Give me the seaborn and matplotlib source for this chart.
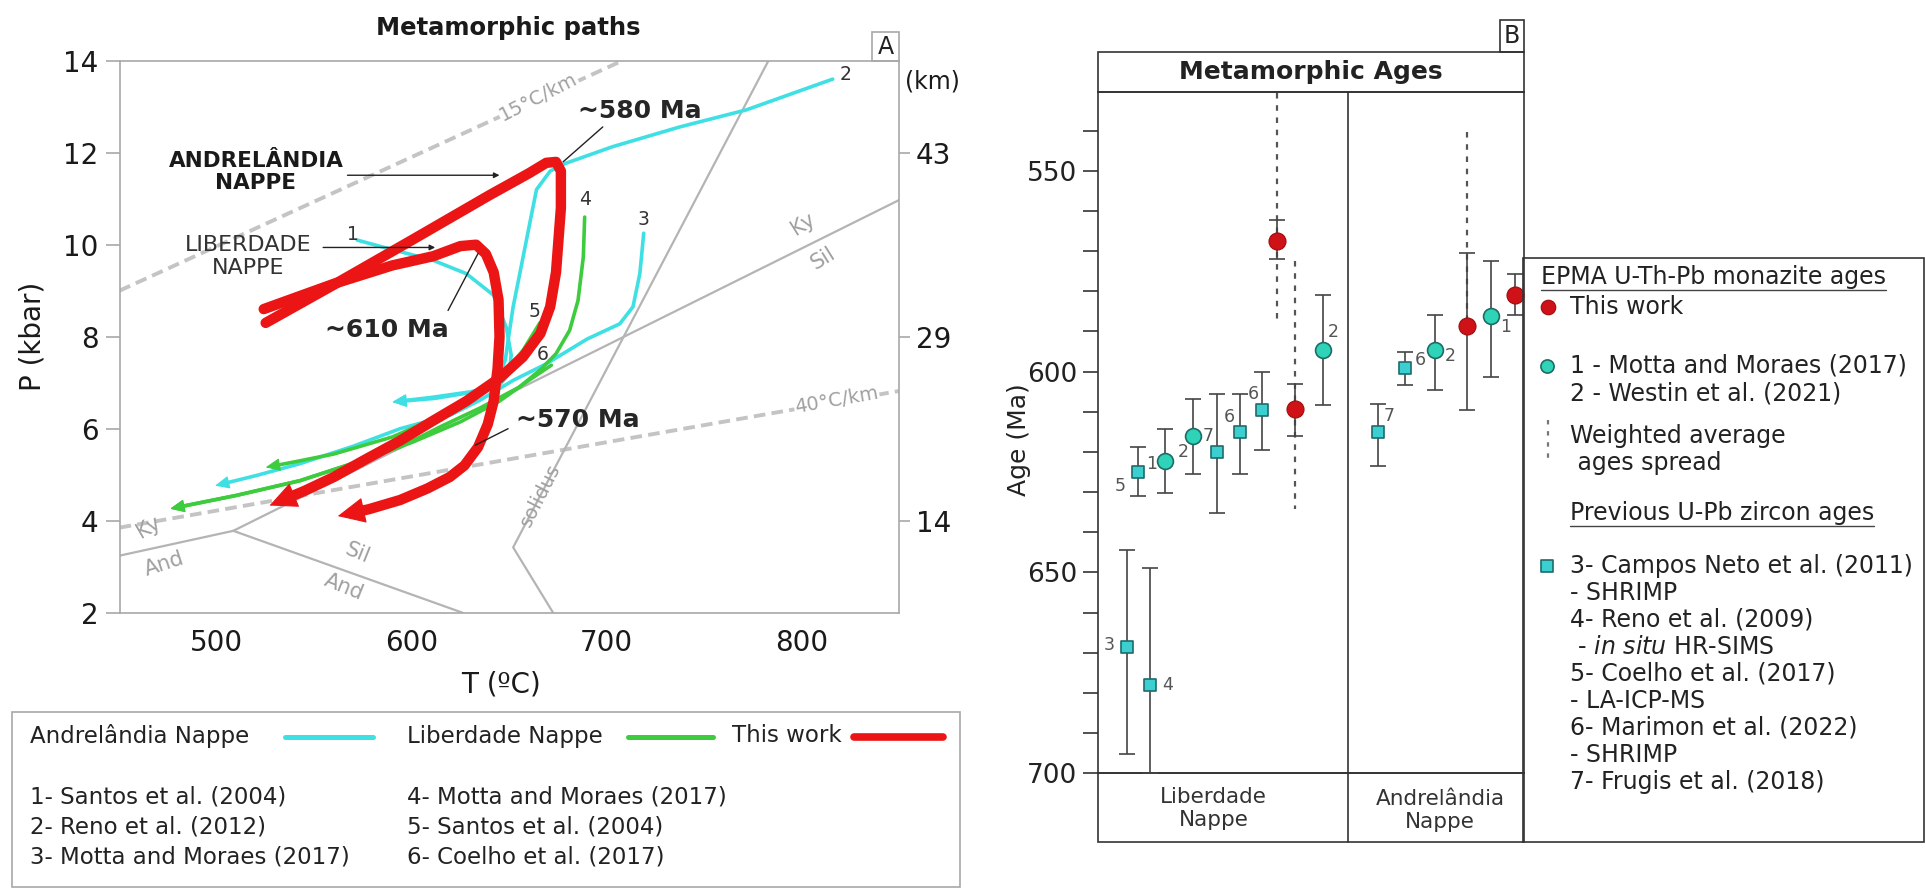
import numpy as np
import pandas as pd
import matplotlib
matplotlib.use("Agg")
import matplotlib.pyplot as plt
import seaborn as sns
from matplotlib.patches import Rectangle, FancyArrowPatch, ArrowStyle
from matplotlib.lines import Line2D

sns.set_theme(style="white")
plt.rcParams["font.family"] = ["DejaVu Sans"]

# ---------------- Panel A : P-T paths (T in degC, P in kbar) ----------------
red_andrel_T = [525, 560, 600, 640, 660, 669, 674, 676.5, 676.5, 674, 671, 666, 657, 645, 628, 610, 594, 577, 560, 545, 527]
red_andrel_P = [8.3, 9.13, 10.1, 11.08, 11.55, 11.78, 11.8, 11.6, 10.8, 9.4, 8.65, 8.07, 7.56, 7.1, 6.6, 6.15, 5.74, 5.35, 4.95, 4.65, 4.33]
red_liber_T = [524, 560, 590, 611, 625, 633, 638, 642, 644.5, 645, 644, 642, 639, 634, 627, 619.5, 608, 594, 578, 562]
red_liber_P = [8.6, 9.15, 9.55, 9.75, 9.97, 10.0, 9.8, 9.4, 8.8, 8.0, 7.3, 6.6, 6.1, 5.6, 5.2, 4.95, 4.7, 4.45, 4.25, 4.1]

cyan1_T = [572, 585, 611, 628, 642, 648.5, 651, 650, 645, 630, 610, 590]
cyan1_P = [10.1, 9.95, 9.66, 9.37, 8.9, 8.2, 7.6, 7.2, 6.95, 6.8, 6.68, 6.58]
cyan2_T = [816, 771.6, 737.5, 703, 679, 671, 664, 660.5, 655.4, 652, 649.4, 648, 644, 632, 612, 590]
cyan2_P = [13.6, 12.93, 12.56, 12.13, 11.77, 11.6, 11.2, 10.46, 9.37, 8.65, 7.92, 7.5, 7.05, 6.8, 6.66, 6.58]
cyan3_T = [719, 718, 717, 713.5, 706.7, 690, 669, 652, 635, 620, 594, 570, 542.6, 520, 499]
cyan3_P = [10.25, 9.8, 9.37, 8.65, 8.28, 7.95, 7.41, 7.05, 6.62, 6.3, 6.0, 5.62, 5.24, 4.98, 4.76]

green4_T = [688.7, 688, 685.3, 681, 674, 665.7, 655, 635, 615, 594, 570, 542.6, 510, 476]
green4_P = [10.6, 9.73, 8.79, 8.14, 7.63, 7.27, 6.9, 6.45, 6.05, 5.6, 5.25, 4.87, 4.55, 4.26]
green5_T = [665.7, 657, 645, 635, 620, 605, 590, 560, 540, 525]
green5_P = [8.3, 7.7, 7.12, 6.76, 6.4, 6.1, 5.82, 5.45, 5.28, 5.16]
green6_T = [671.6, 660, 645, 625, 600, 570, 542.6, 510, 476]
green6_P = [7.38, 7.05, 6.6, 6.15, 5.7, 5.25, 4.87, 4.55, 4.26]

path_labels = ["1", "2", "3", "4", "5", "6"]

# reaction lines / geotherms
ky_sil_T, ky_sil_P = [508.4, 850], [3.78, 10.97]
ky_and_T, ky_and_P = [450, 508.4], [3.24, 3.78]
and_sil_T, and_sil_P = [508.4, 626], [3.78, 2.0]
solidus_T, solidus_P = [672.5, 652, 783], [2.0, 3.42, 14.0]
geo15_T, geo15_P = [450, 708], [9.0, 14.0]
geo40_T, geo40_P = [450, 850], [3.85, 6.82]

km_ticks_P = [4, 8, 12]
km_labels = ["14", "29", "43"]

# ---------------- Panel B : metamorphic ages (Ma) ----------------
zircon_x = [6.7, 9.4, 12.1, 27.8, 33.3, 38.4, 65.7, 72.0]
zircon_age = [668.5, 625.1, 678.1, 620.1, 615.1, 609.6, 615.1, 599.2]
zircon_young = [644.3, 618.8, 648.9, 605.5, 605.5, 600.0, 608.0, 595.0]
zircon_old = [695.1, 630.9, 700.0, 635.1, 625.5, 619.6, 623.4, 603.4]
zircon_ref = ["3", "5", "4", "7", "6", "6", "7", "6"]

monaz_x = [15.7, 22.3, 52.8, 79.0, 92.3]
monaz_age = [622.2, 615.9, 594.6, 594.6, 586.2]
monaz_young = [614.2, 606.7, 580.8, 585.8, 572.5]
monaz_old = [630.1, 625.5, 608.4, 604.6, 601.3]
monaz_ref = ["1", "2", "2", "2", "1"]

this_x = [41.9, 46.2, 86.5, 97.8]
this_age = [567.4, 609.2, 588.7, 580.8]
this_young = [562.2, 603.0, 570.4, 575.8]
this_old = [572.0, 615.9, 609.6, 585.8]
spread_x = [41.9, 46.2, 86.5]
spread_young = [530.7, 572.5, 540.3]
spread_old = [588.3, 634.3, 588.7]

nappes = ["Liberdade\nNappe", "Andrelândia\nNappe"]

# label offsets (points) for reference numbers
zircon_off = [(-13, 1), (-13, -10), (13, 0), (-6, 12), (-8, 11), (-6, 12), (8, 12), (11, 6)]
monaz_off = [(-10, -2), (-7, -12), (7, 13), (11, -4), (10, -8)]

# ---------------- figure ----------------
W, H = 1925, 889
fig = plt.figure(figsize=(W / 100, H / 100), dpi=100)

def frect(x0, y0, x1, y1):
    return [x0 / W, 1 - y1 / H, (x1 - x0) / W, (y1 - y0) / H]

CYAN = "#3ee0e4"
GREEN = "#3dcc3d"
RED = "#ec1515"
GRAY = "#b4b4b4"

# ===== Panel A =====
axA = fig.add_axes(frect(119.5, 60.7, 899, 612.7))
axA.set_xlim(450, 850)
axA.set_ylim(2, 14)
for s in axA.spines.values():
    s.set_color("#a8a8a8")
    s.set_linewidth(1.2)

def line(ax, T, P, **kw):
    sns.lineplot(x=T, y=P, sort=False, estimator=None, ax=ax, legend=False, **kw)

# geotherms
line(axA, geo15_T, geo15_P, color="#c4c4c4", lw=2.8, dashes=(3, 1.6), zorder=1)
line(axA, geo40_T, geo40_P, color="#c4c4c4", lw=2.8, dashes=(3, 1.6), zorder=1)
for T, P in [(ky_sil_T, ky_sil_P), (ky_and_T, ky_and_P), (and_sil_T, and_sil_P), (solidus_T, solidus_P)]:
    line(axA, T, P, color=GRAY, lw=1.6, zorder=1)

tkw = dict(color="#a0a0a0", zorder=2, ha="center", va="center")
axA.text(665, 13.2, "15°C/km", fontsize=14, rotation=27, bbox=dict(fc="white", ec="none", pad=0.5), **tkw)
axA.text(818, 6.62, "40°C/km", fontsize=14, rotation=10, bbox=dict(fc="white", ec="none", pad=0.5), **tkw)
axA.text(801, 10.45, "Ky", fontsize=15, rotation=32, **tkw)
axA.text(811, 9.7, "Sil", fontsize=15, rotation=32, **tkw)
axA.text(465, 3.85, "Ky", fontsize=15, rotation=30, **tkw)
axA.text(473, 3.05, "And", fontsize=15, rotation=18, **tkw)
axA.text(572, 3.3, "Sil", fontsize=15, rotation=-22, **tkw)
axA.text(565, 2.55, "And", fontsize=15, rotation=-22, **tkw)
axA.text(666, 4.55, "solidus", fontsize=14, rotation=63, **tkw)


def trim_end(ax, T, P, dist_px):
    pts = ax.transData.transform(np.column_stack([T, P]))
    remaining = dist_px
    i = len(pts) - 1
    new_pts = pts
    while i > 0:
        seg = pts[i] - pts[i - 1]
        L = np.hypot(*seg)
        if L >= remaining:
            cut = pts[i] - seg / L * remaining
            new_pts = np.vstack([pts[:i], cut])
            break
        remaining -= L
        i -= 1
    d = ax.transData.inverted().transform(new_pts)
    return list(d[:, 0]), list(d[:, 1])


def path(ax, T, P, color, lw, hl, hw, z):
    hl_px = hl * 100 / 72
    Tt, Pt = trim_end(ax, T, P, 0.6 * hl_px)
    line(ax, Tt, Pt, color=color, lw=lw, zorder=z)
    ax.lines[-1].set_solid_capstyle("round")
    ax.lines[-1].set_solid_joinstyle("round")
    arr = FancyArrowPatch((Tt[-1], Pt[-1]), (T[-1], P[-1]),
                          arrowstyle=ArrowStyle("-|>", head_length=hl, head_width=hw),
                          mutation_scale=1, color=color, lw=0.8, shrinkA=0, shrinkB=0, zorder=z)
    ax.add_patch(arr)

for T, P in [(cyan1_T, cyan1_P), (cyan2_T, cyan2_P), (cyan3_T, cyan3_P)]:
    path(axA, T, P, CYAN, 2.6, 9, 4, 3)
for T, P in [(green4_T, green4_P), (green5_T, green5_P), (green6_T, green6_P)]:
    path(axA, T, P, GREEN, 2.6, 9, 4, 4)
path(axA, red_andrel_T, red_andrel_P, RED, 7.5, 18, 8.5, 5)
path(axA, red_liber_T, red_liber_P, RED, 7.5, 18, 8.5, 5)

# path numbers
starts = [(cyan1_T[0], cyan1_P[0]), (cyan2_T[0], cyan2_P[0]), (cyan3_T[0], cyan3_P[0]),
          (green4_T[0], green4_P[0]), (green5_T[0], green5_P[0]), (green6_T[0], green6_P[0])]
num_off = [(-3, 4), (9, 3), (0, 10), (0, 13), (-4, 8), (-6, 8)]
for lab, (t, p), off in zip(path_labels, starts, num_off):
    axA.annotate(lab, (t, p), xytext=off, textcoords="offset points", fontsize=13.5,
                 color="#333333", ha="center", va="center", zorder=6)

# annotations
akw = dict(arrowprops=dict(arrowstyle="-|>", color="#222222", lw=1.0, mutation_scale=8,
                           shrinkA=0, shrinkB=0), zorder=7)
axA.text(520, 11.58, "ANDRELÂNDIA\nNAPPE", fontsize=15.5, fontweight="bold", ha="center",
         va="center", linespacing=1.15, color="#1a1a1a", zorder=7)
axA.annotate("", xy=(645, 11.51), xytext=(567, 11.51), **akw)
axA.text(516, 9.74, "LIBERDADE\nNAPPE", fontsize=16, ha="center", va="center",
         linespacing=1.15, color="#333333", zorder=7)
axA.annotate("", xy=(612, 9.94), xytext=(554.5, 9.94), **akw)

lkw = dict(color="#222222", lw=1.0, zorder=7)
axA.text(717, 12.9, "~580 Ma", fontsize=18, fontweight="bold", ha="center", va="center", zorder=7)
axA.plot([698, 677.6], [12.56, 11.8], **lkw)
axA.text(587, 8.14, "~610 Ma", fontsize=18, fontweight="bold", ha="center", va="center", zorder=7)
axA.plot([618.6, 634], [8.57, 9.81], **lkw)
axA.text(685, 6.18, "~570 Ma", fontsize=18, fontweight="bold", ha="center", va="center", zorder=7)
axA.plot([649.4, 632.5], [6.0, 5.64], **lkw)

axA.set_xticks(np.arange(450, 851, 50))
axA.set_xticklabels(["" if v % 100 else str(v) for v in np.arange(450, 851, 50)])
axA.set_yticks(np.arange(2, 15, 2))
axA.tick_params(axis="x", direction="in", length=13, width=1.2, color="#a8a8a8",
                labelsize=20, pad=12, labelcolor="#1a1a1a")
axA.tick_params(axis="y", direction="out", length=10, width=1.2, color="#a8a8a8",
                labelsize=20, pad=5, labelcolor="#1a1a1a", left=True)
axA.set_xlabel("T (ºC)", fontsize=20, color="#1a1a1a")
axA.xaxis.set_label_coords(0.49, -0.104)
axA.set_ylabel("P (kbar)", fontsize=20, color="#1a1a1a")
axA.yaxis.set_label_coords(-0.094, 0.5)

twin = axA.twinx()
twin.set_ylim(2, 14)
twin.set_yticks(km_ticks_P)
twin.set_yticklabels(km_labels)
twin.tick_params(axis="y", direction="out", length=8, width=1.2, color="#a8a8a8",
                 labelsize=20, pad=4, labelcolor="#1a1a1a", right=True)
for s in twin.spines.values():
    s.set_visible(False)
twin.grid(False)

# ===== Panel B =====
axB = fig.add_axes(frect(1098.3, 91.7, 1524.3, 773.3))
axB.set_xlim(0, 100)
axB.set_ylim(700, 530.3)
for s in axB.spines.values():
    s.set_color("#333333")
    s.set_linewidth(1.2)
axB.set_xticks([])
axB.set_yticks(np.arange(540, 701, 10))
axB.set_yticklabels([str(v) if v % 50 == 0 else "" for v in np.arange(540, 701, 10)])
axB.tick_params(axis="y", direction="out", length=11, width=1.2, color="#333333",
                labelsize=19, pad=4, labelcolor="#222222", left=True)
axB.set_ylabel("Age (Ma)", fontsize=18, color="#222222")
axB.yaxis.set_label_coords(-0.158, 0.49)

# weighted average spreads
for x, y0, y1 in zip(spread_x, spread_young, spread_old):
    axB.plot([x, x], [y0, y1], color="#555555", lw=1.6, ls=(0, (2.5, 3)), zorder=2)

ekw = dict(fmt="none", ecolor="#444444", elinewidth=1.2, capsize=5.5, capthick=1.2, zorder=3)
for xs, ag, yg, od in [(zircon_x, zircon_age, zircon_young, zircon_old),
                       (monaz_x, monaz_age, monaz_young, monaz_old),
                       (this_x, this_age, this_young, this_old)]:
    ag = np.array(ag)
    axB.errorbar(xs, ag, yerr=[ag - np.array(yg), np.array(od) - ag], **ekw)

sns.scatterplot(x=zircon_x, y=zircon_age, marker="s", s=85, color="#3ccfcf",
                edgecolor="#1f6b6b", linewidth=1.2, ax=axB, zorder=5, clip_on=False)
sns.scatterplot(x=monaz_x, y=monaz_age, marker="o", s=130, color="#2fd3b8",
                edgecolor="#1f6b66", linewidth=1.2, ax=axB, zorder=5, clip_on=False)
sns.scatterplot(x=this_x, y=this_age, marker="o", s=150, color="#cf1218",
                edgecolor="#9a0d10", linewidth=0.8, ax=axB, zorder=5, clip_on=False)

for xs, ag, refs, offs in [(zircon_x, zircon_age, zircon_ref, zircon_off),
                           (monaz_x, monaz_age, monaz_ref, monaz_off)]:
    for x, a, r, o in zip(xs, ag, refs, offs):
        axB.annotate(r, (x, a), xytext=o, textcoords="offset points", fontsize=12.5,
                     color="#555555", ha="center", va="center", zorder=6)

# header / category boxes
bkw = dict(transform=axB.transAxes, clip_on=False, color="#333333", lw=1.2)
axB.add_patch(Rectangle((0, 1.0), 1, 0.0587, transform=axB.transAxes, clip_on=False,
                        fill=False, ec="#333333", lw=1.2))
axB.add_patch(Rectangle((0, -0.1004), 1, 0.1004, transform=axB.transAxes, clip_on=False,
                        fill=False, ec="#333333", lw=1.2))
axB.plot([0.5854, 0.5854], [-0.1004, 1.0], **bkw)
axB.text(0.5, 1.029, "Metamorphic Ages", transform=axB.transAxes, fontsize=18,
         fontweight="bold", ha="center", va="center", color="#222222")
axB.text(0.27, -0.052, nappes[0], transform=axB.transAxes, fontsize=15.5, ha="center",
         va="center", color="#333333", linespacing=1.2)
axB.text(0.802, -0.054, nappes[1], transform=axB.transAxes, fontsize=15.5, ha="center",
         va="center", color="#333333", linespacing=1.2)

# ===== overlay for boxes and legends (pixel coordinates) =====
ov = fig.add_axes([0, 0, 1, 1])
ov.set_xlim(0, W)
ov.set_ylim(H, 0)
ov.axis("off")
ov.patch.set_alpha(0)

ov.text(508, 28, "Metamorphic paths", fontsize=17.5, fontweight="bold", ha="center",
        va="center", color="#1a1a1a")
ov.add_patch(Rectangle((872, 32), 27, 29, fill=False, ec="#a8a8a8", lw=1.2))
ov.text(885.5, 47, "A", fontsize=17, ha="center", va="center", color="#222222")
ov.text(932, 82, "(km)", fontsize=17, ha="center", va="center", color="#1a1a1a")
ov.add_patch(Rectangle((1500, 20), 24, 32, fill=False, ec="#333333", lw=1.2))
ov.text(1512, 36, "B", fontsize=17, ha="center", va="center", color="#222222")

# panel A legend box (key row: label followed by its line sample)
ov.add_patch(Rectangle((12, 712), 948, 175, fill=False, ec="#a8a8a8", lw=1.2))
key_items = [("Andrelândia Nappe", CYAN, 3.6, 30, 285, 373),
             ("Liberdade Nappe", GREEN, 3.6, 407, 628, 713),
             ("This work", RED, 5.5, 732, 854, 943)]
for lab, col, lw_, xt, x0, x1 in key_items:
    ov.text(xt, 736, lab, fontsize=16.5, va="center", color="#222222")
    ov.add_line(Line2D([x0, x1], [737, 737], color=col, lw=lw_))
refsA_left = ["1- Santos et al. (2004)", "2- Reno et al. (2012)", "3- Motta and Moraes (2017)"]
refsA_right = ["4- Motta and Moraes (2017)", "5- Santos et al. (2004)", "6- Coelho et al. (2017)"]
for i, (l, r) in enumerate(zip(refsA_left, refsA_right)):
    y = 797 + i * 30
    ov.text(30, y, l, fontsize=16.5, va="center", color="#222222")
    ov.text(407, y, r, fontsize=16.5, va="center", color="#222222")

# panel B legend box
ov.add_patch(Rectangle((1523.3, 258.3), 400.5, 583.4, fill=False, ec="#333333", lw=1.2))
fs = 17
hdr1 = ov.text(1541, 277, "EPMA U-Th-Pb monazite ages", fontsize=fs, va="center", color="#222222")
ov.scatter([1548], [307], s=110, color="#cf1218", edgecolor="#9a0d10", lw=0.8)
ov.text(1570, 307, "This work", fontsize=fs, va="center", color="#222222")
ov.scatter([1547], [366], s=90, color="#2fd3b8", edgecolor="#1f6b66", lw=1.2)
ov.text(1570, 366, "1 - Motta and Moraes (2017)", fontsize=fs, va="center", color="#222222")
ov.text(1570, 393, "2 - Westin et al. (2021)", fontsize=fs, va="center", color="#222222")
ov.plot([1548, 1548], [420, 462], color="#777777", lw=1.6, ls=(0, (2, 3)))
ov.text(1570, 436, "Weighted average", fontsize=fs, va="center", color="#222222")
ov.text(1570, 463, " ages spread", fontsize=fs, va="center", color="#222222")
hdr2 = ov.text(1570, 513, "Previous U-Pb zircon ages", fontsize=fs, va="center", color="#222222")
ov.scatter([1547], [566], s=80, marker="s", color="#3ccfcf", edgecolor="#1f6b6b", lw=1.2)
zr_lines = ["3- Campos Neto et al. (2011)", "- SHRIMP", "4- Reno et al. (2009)",
            r" - $\it{in\ situ}$ HR-SIMS", "5- Coelho et al. (2017)", "- LA-ICP-MS",
            "6- Marimon et al. (2022)", "- SHRIMP", "7- Frugis et al. (2018)"]
for i, t in enumerate(zr_lines):
    ov.text(1570, 566 + i * 27, t, fontsize=fs, va="center", color="#222222")

fig.canvas.draw()
r = fig.canvas.get_renderer()
inv = ov.transData.inverted()
for t in (hdr1, hdr2):
    bb = t.get_window_extent(r)
    (x0, y0), (x1, y1) = inv.transform([[bb.x0, bb.y0], [bb.x1, bb.y1]])
    ov.plot([x0, x1], [y0 + 1, y0 + 1], color="#444444", lw=1.0)

fig.savefig("out.png", dpi=100)
